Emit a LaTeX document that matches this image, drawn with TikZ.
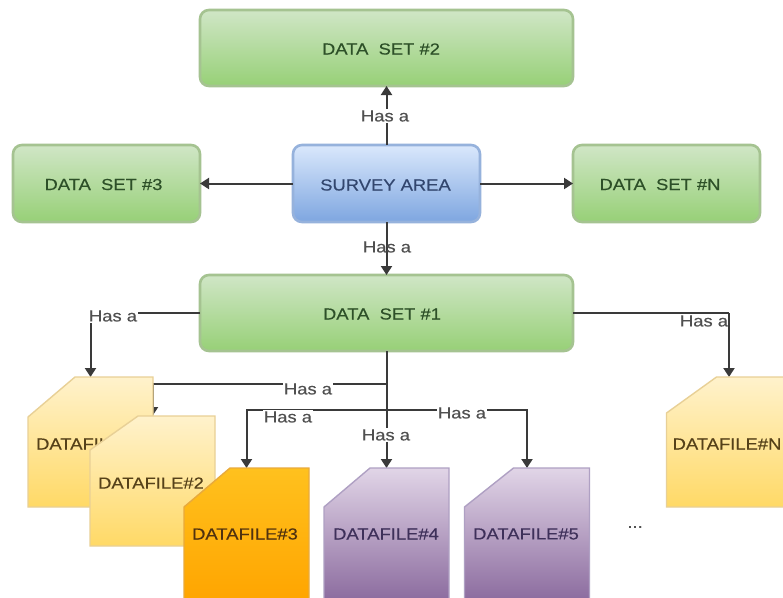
\documentclass[tikz,border=0pt]{standalone}
\usepackage{fontspec}
\setmainfont{Liberation Sans}[FakeStretch=1.15,FakeBold=0.35]
\usetikzlibrary{arrows.meta,calc}
\definecolor{linec}{HTML}{3A3A3A}
\definecolor{hasc}{HTML}{505050}
\tikzset{
  txt/.style={font=\fontsize{16}{18}\selectfont,inner sep=0pt},
  hasa/.style={txt,text=hasc,fill=white,inner xsep=1pt,inner ysep=1.5pt},
  hasnofill/.style={txt,text=hasc},
  conn/.style={draw=linec,line width=2pt},
  arrowed/.style={conn,-{Triangle[width=11pt,length=9pt]}},
  panel/.style={rounded corners=9pt,line width=2.6pt,inner sep=0pt,outer sep=0pt},
  greenbox/.style={panel,draw={rgb,255:red,165;green,195;blue,145},top color={rgb,255:red,208;green,230;blue,198},bottom color={rgb,255:red,151;green,208;blue,119}},
  bluebox/.style={panel,draw={rgb,255:red,150;green,178;blue,220},top color={rgb,255:red,218;green,232;blue,252},bottom color={rgb,255:red,126;green,166;blue,224}},
  filebase/.style={minimum width=125pt,minimum height=130pt,inner sep=0pt,outer sep=0pt},
  yellowdoc/.style={line width=1.4pt,draw={rgb,255:red,232;green,208;blue,150},top color={rgb,255:red,255;green,242;blue,204},bottom color={rgb,255:red,255;green,217;blue,102}},
  orangedoc/.style={line width=1.4pt,draw={rgb,255:red,232;green,170;blue,60},top color={rgb,255:red,255;green,193;blue,30},bottom color={rgb,255:red,255;green,165;blue,0}},
  purpledoc/.style={line width=1.4pt,draw={rgb,255:red,175;green,160;blue,195},top color={rgb,255:red,225;green,213;blue,231},bottom color={rgb,255:red,140;green,108;blue,159}}
}
\newcommand{\docshape}[4]{% style, node, cut height, cut width
  \path[#1] (#2.south west) -- ($(#2.north west)+(0,#3)$) -- ($(#2.north west)+(#4,0)$) -- (#2.north east) -- (#2.south east) -- cycle;
}
\begin{document}
\begin{tikzpicture}[x=1pt,y=-1pt]
\useasboundingbox (0,0) rectangle (783,597);
\fill[white] (0,0) rectangle (783,597);
\clip (0,0) rectangle (783,597);

% anchors for the documents (drawn later, over the connectors)
\node[filebase] (f1) at (90.5,442) {};
\node[filebase] (f2) at (152.5,481) {};
\node[filebase,minimum height=132pt] (f3) at (246.5,534) {};
\node[filebase,minimum height=132pt] (f4) at (386.5,534) {};
\node[filebase,minimum height=132pt] (f5) at (527,534) {};
\node[filebase] (fn) at (729,442) {};

% panels
\node[greenbox,minimum width=373pt,minimum height=76pt] (ds2) at (386.5,48) {};
\node[greenbox,minimum width=187pt,minimum height=77pt] (ds3) at (106.5,183.5) {};
\node[bluebox,minimum width=187pt,minimum height=77pt] (sa) at (386.5,183.5) {};
\node[greenbox,minimum width=187pt,minimum height=77pt] (dsn) at (666.5,183.5) {};
\node[greenbox,minimum width=373pt,minimum height=76pt] (ds1) at (386.5,313) {};

\coordinate (j1) at (386.5,384);
\coordinate (j2) at (386.5,409.5);
\coordinate (cn) at (729,313);

% connectors
\draw[arrowed] (sa) -- (ds2);
\draw[arrowed] (sa) -- (ds3);
\draw[arrowed] (sa) -- (dsn);
\draw[arrowed] (sa) -- (ds1);
\draw[arrowed] (ds1.west) -| (f1.north);
\draw[conn] (ds1.east) -- (cn);
\draw[arrowed] (ds1.south) -- (f4.north);
\draw[arrowed] (j1) -| (f2.north);
\draw[arrowed] (j2) -| (f3.north);
\draw[arrowed] (j2) -| (f5.north);

% connector labels
\node[hasa] (l1) at (385,116) {Has a};
\node[hasnofill] (l2) at (387,247) {Has a};
\node[hasa] (l3) at (113,316) {Has a};
\node[hasa] (l4) at (704,321) {Has a};
\node[hasa] (l5) at (308,389) {Has a};
\node[hasa] (l6) at (288,417) {Has a};
\node[hasa] (l7) at (386,435) {Has a};
\node[hasa] (l8) at (462,413) {Has a};
\draw[arrowed] (cn) -- (fn.north);

% documents
\docshape{yellowdoc}{f1}{40}{47}
\node[txt,text={rgb,255:red,85;green,65;blue,25}] (t1) at (89,444) {DATAFILE\#1};
\docshape{yellowdoc}{f2}{34}{48}
\node[txt,text={rgb,255:red,85;green,65;blue,25}] (t2) at (151,483) {DATAFILE\#2};
\docshape{orangedoc}{f3}{39}{46}
\node[txt,text={rgb,255:red,80;green,50;blue,15}] (t3) at (245,534) {DATAFILE\#3};
\docshape{purpledoc}{f4}{39}{46}
\node[txt,text={rgb,255:red,62;green,48;blue,90}] (t4) at (386,534) {DATAFILE\#4};
\docshape{purpledoc}{f5}{39}{49}
\node[txt,text={rgb,255:red,62;green,48;blue,90}] (t5) at (526,534) {DATAFILE\#5};
\docshape{yellowdoc}{fn}{36}{50}
\node[txt,text={rgb,255:red,85;green,65;blue,25}] (t6) at (727,444) {DATAFILE\#N};

% panel texts
\node[txt,text={rgb,255:red,45;green,80;blue,40}] (p2) at (381,49) {DATA\ \ SET \#2};
\node[txt,text={rgb,255:red,45;green,80;blue,40}] (p3) at (103.5,184.5) {DATA\ \ SET \#3};
\node[txt,text={rgb,255:red,50;green,70;blue,110}] (p0) at (385.5,185) {SURVEY AREA};
\node[txt,text={rgb,255:red,45;green,80;blue,40}] (pn) at (660,184.5) {DATA\ \ SET \#N};
\node[txt,text={rgb,255:red,45;green,80;blue,40}] (p1) at (382,314) {DATA\ \ SET \#1};

\node[txt,text=hasc] (dots) at (635,527) {...};
\end{tikzpicture}
\end{document}
